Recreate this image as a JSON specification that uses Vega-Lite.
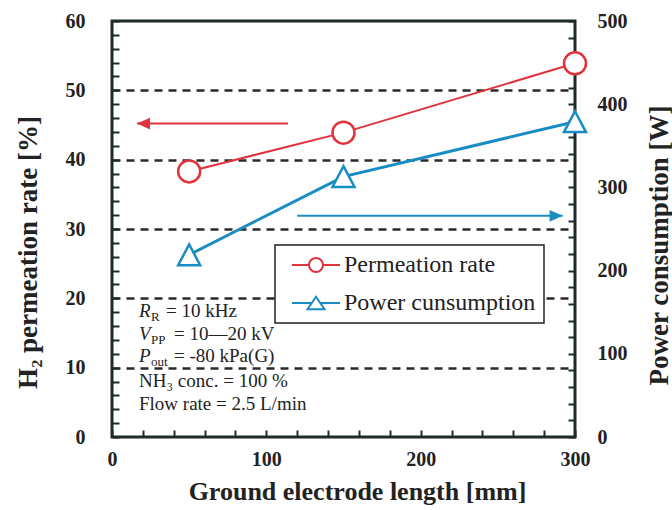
{
  "$schema": "https://vega.github.io/schema/vega-lite/v6.json",
  "width": 463,
  "height": 416,
  "autosize": {"type": "none"},
  "padding": {"left": 112, "top": 21, "right": 97, "bottom": 73},
  "background": "white",
  "config": {
    "view": {"stroke": "#1e2b2b", "strokeWidth": 3},
    "font": "Liberation Serif",
    "axis": {
      "domain": false,
      "labelFont": "Liberation Serif",
      "labelFontWeight": "bold",
      "labelFontSize": 20,
      "labelColor": "#222222",
      "titleFont": "Liberation Serif",
      "titleFontWeight": "bold",
      "titleColor": "#222222",
      "labelOverlap": false,
      "labelFlush": false
    }
  },
  "datasets": {
    "series": [
      {"series": "Permeation rate", "x": 50, "y": 38.3},
      {"series": "Permeation rate", "x": 150, "y": 43.9},
      {"series": "Permeation rate", "x": 300, "y": 53.9},
      {"series": "Power cunsumption", "x": 50, "y": 219},
      {"series": "Power cunsumption", "x": 150, "y": 313},
      {"series": "Power cunsumption", "x": 300, "y": 379}
    ],
    "arrows": [
      {"arrow": "left", "end": "tip", "x": 16.2, "y": 45.2},
      {"arrow": "left", "end": "tail", "x": 114, "y": 45.2},
      {"arrow": "right", "end": "tail", "x": 120, "y": 31.9},
      {"arrow": "right", "end": "tip", "x": 292, "y": 31.9}
    ],
    "notes": [
      {"line": 1, "x": 17.5, "y": 17.3, "sym": "R", "sub": "R", "rest": "= 10 kHz"},
      {"line": 2, "x": 17.5, "y": 14.0, "sym": "V", "sub": "PP", "rest": "= 10—20 kV"},
      {"line": 3, "x": 17.5, "y": 10.8, "sym": "P", "sub": "out", "rest": "= -80 kPa(G)"},
      {"line": 4, "x": 17.5, "y": 7.2, "sym": "", "sub": "", "rest": "NH₃ conc. = 100 %"},
      {"line": 5, "x": 17.5, "y": 3.9, "sym": "", "sub": "", "rest": "Flow rate = 2.5 L/min"}
    ]
  },
  "encoding": {
    "x": {
      "field": "x", "type": "quantitative",
      "scale": {"domain": [0, 300], "nice": false, "zero": false},
      "axis": {
        "title": "Ground electrode length [mm]",
        "values": [0, 20, 40, 60, 80, 100, 120, 140, 160, 180, 200, 220, 240, 260, 280, 300],
        "labelExpr": "datum.value % 100 === 0 ? datum.label : ''",
        "ticks": true,
        "tickSize": -7,
        "tickColor": "#1e2b2b",
        "tickWidth": 2,
        "tickOpacity": 1,
        "labelPadding": 19,
        "grid": false,
        "titleFontSize": 26,
        "titleX": 245,
        "titleY": 62,
        "titleAlign": "center",
        "titleBaseline": "alphabetic",
        "encode": {"ticks": {"update": {"stroke": {"value": "#1e2b2b"}, "strokeWidth": {"value": 2}, "opacity": {"value": 1}, "strokeOpacity": {"value": 1}}}}
      }
    }
  },
  "layer": [
    {
      "encoding": {
        "y": {
          "field": "y", "type": "quantitative",
          "scale": {"domain": [0, 60], "nice": false},
          "axis": {
            "title": "H₂ permeation rate [%]",
            "values": [0, 2, 4, 6, 8, 10, 12, 14, 16, 18, 20, 22, 24, 26, 28, 30, 32, 34, 36, 38, 40, 42, 44, 46, 48, 50, 52, 54, 56, 58, 60],
            "labelExpr": "datum.value % 10 === 0 ? datum.label : ''",
            "ticks": true,
            "tickSize": -7,
            "tickColor": "#1e2b2b",
            "tickWidth": 2,
            "tickOpacity": 1,
            "labelPadding": 34,
            "grid": true,
            "gridDash": [8, 6],
            "gridColor": "#2a2a2a",
            "gridWidth": 2.5,
            "gridOpacity": {"condition": {"test": "datum.value % 10 === 0 && datum.value > 0 && datum.value < 60", "value": 1}, "value": 0},
            "titleFontSize": 27,
            "titleAngle": 270,
            "titleX": -84,
            "titleY": 231,
            "titleAlign": "center",
            "titleBaseline": "middle",
            "encode": {"ticks": {"update": {"stroke": {"value": "#1e2b2b"}, "strokeWidth": {"value": 2}, "opacity": {"value": 1}, "strokeOpacity": {"value": 1}}}}
          }
        }
      },
      "layer": [
        {
          "data": {"name": "series"},
          "transform": [{"filter": "datum.series === 'Permeation rate'"}],
          "mark": {"type": "line", "strokeWidth": 2},
          "encoding": {
            "color": {
              "field": "series", "type": "nominal",
              "scale": {"domain": ["Permeation rate", "Power cunsumption"], "range": ["#e0343c", "#1a8cc4"]},
              "legend": {
                "title": null,
                "orient": "none",
                "legendX": 163,
                "legendY": 224,
                "strokeColor": "#222222",
                "fillColor": "white",
                "padding": 8,
                "labelFont": "Liberation Serif",
                "labelFontSize": 24,
                "labelColor": "#222222",
                "labelLimit": 400,
                "symbolSize": 196,
                "symbolOffset": 21,
                "labelOffset": 16,
                "rowPadding": 14,
                "symbolStrokeWidth": 2,
                "encode": {
                  "legend": {"update": {"strokeWidth": {"value": 1.5}}},
                  "symbols": {
                    "update": {
                      "shape": {"signal": "datum.value === 'Permeation rate' ? 'M-3.43,0L-1,0M1,0L3.43,0M-1,0A1,1,0,1,1,1,0A1,1,0,1,1,-1,0Z' : 'M-3.43,0L-0.6,0M0.6,0L3.43,0M0,-0.89L1.21,0.89L-1.21,0.89Z'"},
                      "fill": {"value": "white"},
                      "fillOpacity": {"value": 1}
                    }
                  }
                }
              }
            }
          }
        },
        {
          "data": {"name": "series"},
          "transform": [{"filter": "datum.series === 'Permeation rate'"}],
          "mark": {"type": "point", "shape": "circle", "size": 484, "filled": true, "fill": "white", "stroke": "#e0343c", "strokeWidth": 2.5, "opacity": 1}
        },
        {
          "data": {"name": "arrows"},
          "transform": [{"filter": "datum.arrow === 'left'"}],
          "mark": {"type": "line", "stroke": "#e0343c", "strokeWidth": 2}
        },
        {
          "data": {"name": "arrows"},
          "transform": [{"filter": "datum.arrow === 'left' && datum.end === 'tip'"}],
          "mark": {"type": "point", "shape": "M0,0L2,-0.9L2,0.9Z", "size": 169, "filled": true, "fill": "#e0343c", "strokeWidth": 0, "opacity": 1}
        },
        {
          "data": {"name": "arrows"},
          "transform": [{"filter": "datum.arrow === 'right'"}],
          "mark": {"type": "line", "stroke": "#1a8cc4", "strokeWidth": 2}
        },
        {
          "data": {"name": "arrows"},
          "transform": [{"filter": "datum.arrow === 'right' && datum.end === 'tip'"}],
          "mark": {"type": "point", "shape": "M0,0L-2,-0.9L-2,0.9Z", "size": 169, "filled": true, "fill": "#1a8cc4", "strokeWidth": 0, "opacity": 1}
        },
        {
          "data": {"name": "notes"},
          "transform": [{"filter": "datum.line <= 3"}],
          "mark": {"type": "text", "align": "left", "baseline": "alphabetic", "font": "Liberation Serif", "fontSize": 19, "fontStyle": "italic", "color": "#222222"},
          "encoding": {"text": {"field": "sym"}}
        },
        {
          "data": {"name": "notes"},
          "transform": [{"filter": "datum.line <= 3"}],
          "mark": {"type": "text", "align": "left", "baseline": "alphabetic", "font": "Liberation Serif", "fontSize": 13, "dx": 12, "dy": 4, "color": "#222222"},
          "encoding": {"text": {"field": "sub"}}
        },
        {
          "data": {"name": "notes"},
          "transform": [{"filter": "datum.line === 1"}],
          "mark": {"type": "text", "align": "left", "baseline": "alphabetic", "font": "Liberation Serif", "fontSize": 19, "dx": 27, "color": "#222222"},
          "encoding": {"text": {"field": "rest"}}
        },
        {
          "data": {"name": "notes"},
          "transform": [{"filter": "datum.line === 2 || datum.line === 3"}],
          "mark": {"type": "text", "align": "left", "baseline": "alphabetic", "font": "Liberation Serif", "fontSize": 19, "dx": 35, "color": "#222222"},
          "encoding": {"text": {"field": "rest"}}
        },
        {
          "data": {"name": "notes"},
          "transform": [{"filter": "datum.line >= 4"}],
          "mark": {"type": "text", "align": "left", "baseline": "alphabetic", "font": "Liberation Serif", "fontSize": 19, "color": "#222222"},
          "encoding": {"text": {"field": "rest"}}
        }
      ]
    },
    {
      "encoding": {
        "y": {
          "field": "y", "type": "quantitative",
          "scale": {"domain": [0, 500], "nice": false},
          "axis": {
            "orient": "right",
            "title": "Power consumption [W]",
            "values": [0, 20, 40, 60, 80, 100, 120, 140, 160, 180, 200, 220, 240, 260, 280, 300, 320, 340, 360, 380, 400, 420, 440, 460, 480, 500],
            "labelExpr": "datum.value % 100 === 0 ? datum.label : ''",
            "ticks": true,
            "tickSize": -7,
            "tickColor": "#1e2b2b",
            "tickWidth": 2,
            "tickOpacity": 1,
            "labelPadding": 29,
            "grid": false,
            "titleFontSize": 27,
            "titleAngle": 270,
            "titleX": 84,
            "titleY": 224,
            "titleAlign": "center",
            "titleBaseline": "middle",
            "encode": {"ticks": {"update": {"stroke": {"value": "#1e2b2b"}, "strokeWidth": {"value": 2}, "opacity": {"value": 1}, "strokeOpacity": {"value": 1}}}}
          }
        }
      },
      "layer": [
        {
          "data": {"name": "series"},
          "transform": [{"filter": "datum.series === 'Power cunsumption'"}],
          "mark": {"type": "line", "strokeWidth": 3},
          "encoding": {"color": {"field": "series", "type": "nominal"}}
        },
        {
          "data": {"name": "series"},
          "transform": [{"filter": "datum.series === 'Power cunsumption'"}],
          "mark": {"type": "point", "shape": "M0,-0.95L1,0.95L-1,0.95Z", "size": 484, "filled": true, "fill": "white", "stroke": "#1a8cc4", "strokeWidth": 2.5, "opacity": 1}
        }
      ]
    }
  ],
  "resolve": {"scale": {"y": "independent"}}
}
